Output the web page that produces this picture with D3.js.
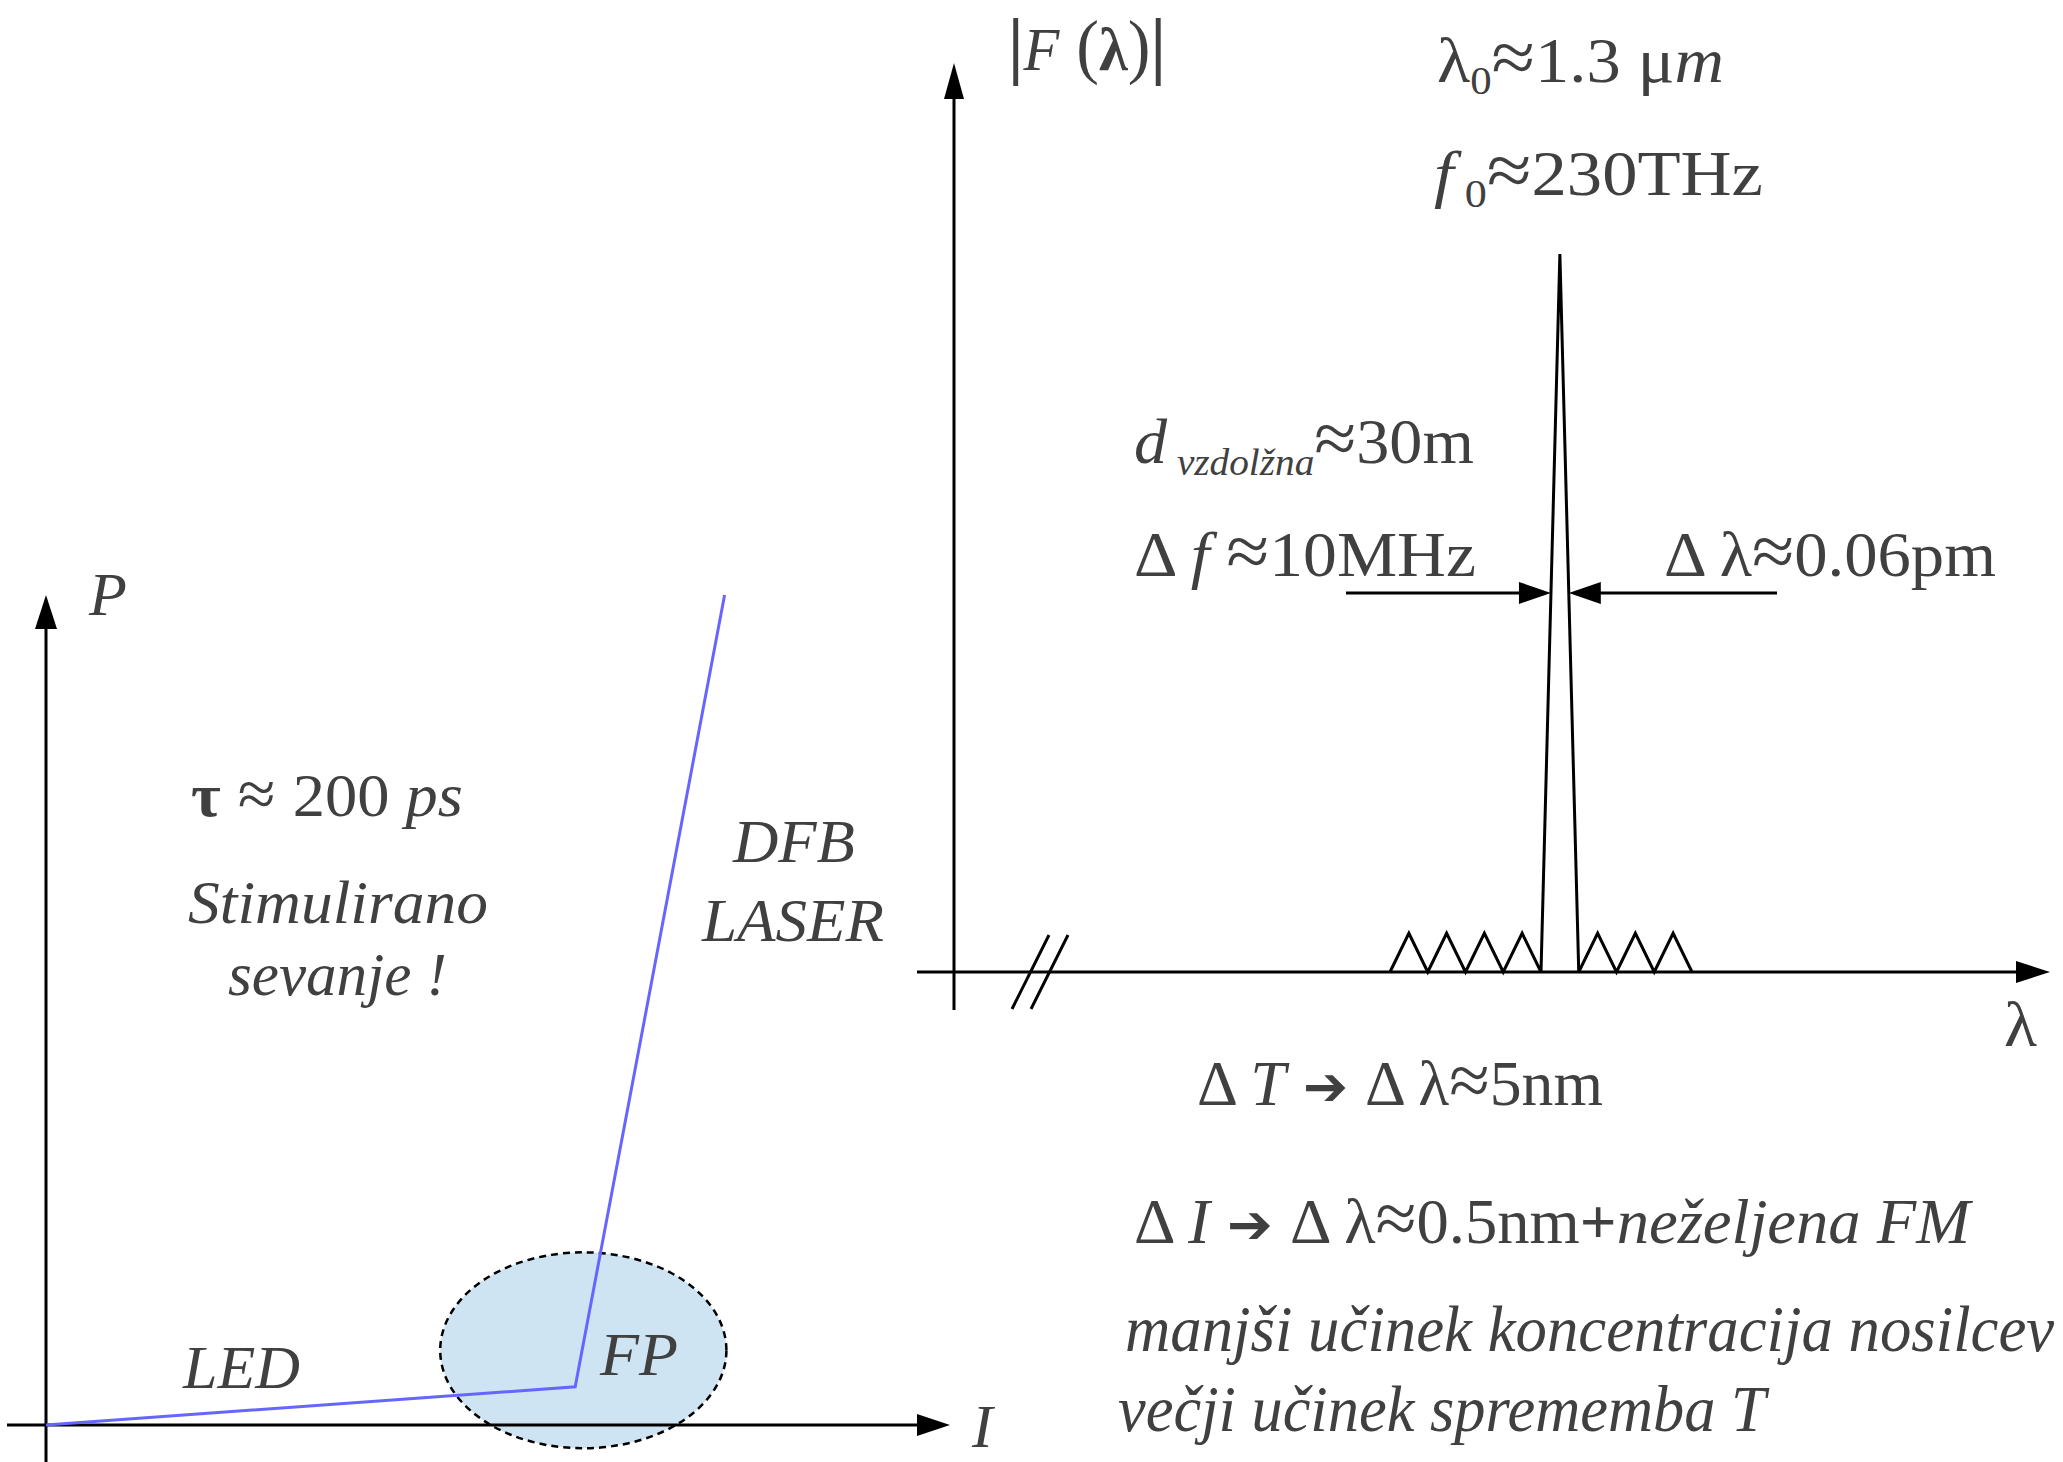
<!DOCTYPE html>
<html><head><meta charset="utf-8">
<script src="https://cdn.jsdelivr.net/npm/d3@7"></script>
<style>body{margin:0;background:#fff}svg{display:block}</style>
</head><body>
<script>
// ---------- data ----------
// Left panel: P–I characteristic (arbitrary units)
const charI = [0, 58.8, 75.4];
const charP = [0, 4.6, 100];
// Fabry-Perot region (ellipse) in data units
const fpCenter = [59.7, 9.0];
const fpRadius = [15.9, 11.8];
// Right panel: DFB spectrum, offsets in mode spacings, relative amplitude
const modeOffset = [-4.5,-4,-3.5,-3,-2.5,-2,-1.5,-1,-0.5,0,0.5,1,1.5,2,2.5,3,3.5];
const modeAmp    = [0,0.054,0,0.054,0,0.054,0,0.054,0,1,0,0.054,0,0.054,0,0.054,0];
const widthLevel = 0.528; // level of the Δλ dimension arrows

const W = 2063, H = 1462;
const ink = "#000", txt = "#404040", blue = "#6666ff";
const serif = "'Liberation Serif','Times New Roman',serif";

const svg = d3.select("body").append("svg").attr("width", W).attr("height", H);
svg.append("rect").attr("width", W).attr("height", H).attr("fill", "#fff");

function arrowHead(g, tip, dir, len, half) {
  const [tx, ty] = tip, [dx, dy] = dir;
  const bx = tx - dx * len, by = ty - dy * len;
  const px = -dy * half, py = dx * half;
  g.append("path").attr("d", `M${tx},${ty}L${bx+px},${by+py}L${bx-px},${by-py}Z`).attr("fill", ink);
}

function label(g, x, y, parts, size, anchor) {
  const t = g.append("text").attr("x", x).attr("y", y).attr("font-family", serif)
    .attr("font-size", size).attr("fill", txt).attr("text-anchor", anchor || "start");
  parts.forEach(p => {
    const s = t.append("tspan").text(p.t);
    if (p.i) s.attr("font-style", "italic");
    if (p.b) s.attr("font-weight", "bold");
    if (p.s) s.attr("font-size", p.s);
    if (p.dy) s.attr("dy", p.dy);
    if (p.f) s.attr("font-family", p.f);
  });
  return t;
}
// stretch/compress a label horizontally so it spans [x0, x1]
function fit(t, x0, x1) {
  const b = t.node().getBBox();
  const sx = (x1 - x0) / b.width;
  t.attr("transform", `translate(${x0 - b.x * sx},0) scale(${sx},1)`);
}

// ---------- left panel ----------
const xI = d3.scaleLinear().domain([0, 100]).range([46, 946]);
const yP = d3.scaleLinear().domain([0, 100]).range([1425, 595]);
const L = svg.append("g");

L.append("ellipse")
  .attr("cx", xI(fpCenter[0])).attr("cy", yP(fpCenter[1]))
  .attr("rx", xI(fpRadius[0]) - xI(0)).attr("ry", yP(0) - yP(fpRadius[1]))
  .attr("fill", "#cfe4f3").attr("stroke", ink).attr("stroke-width", 2.5)
  .attr("stroke-dasharray", "7,5");

L.append("line").attr("x1", xI(0) - 39).attr("x2", xI(100) - 20).attr("y1", yP(0)).attr("y2", yP(0))
  .attr("stroke", ink).attr("stroke-width", 3);
arrowHead(L, [xI(100) + 4, yP(0)], [1, 0], 33, 11);
L.append("line").attr("x1", xI(0)).attr("x2", xI(0)).attr("y1", H).attr("y2", yP(100) + 20)
  .attr("stroke", ink).attr("stroke-width", 3);
arrowHead(L, [xI(0), yP(100)], [0, -1], 34, 11);

L.append("path")
  .attr("d", d3.line().x((d, i) => xI(charI[i])).y((d, i) => yP(charP[i]))(charI))
  .attr("fill", "none").attr("stroke", blue).attr("stroke-width", 3);

label(L, 89, 615, [{t: "P", i: 1}], 62);
label(L, 972, 1447, [{t: "I", i: 1}], 62);
fit(label(L, 191, 816, [{t: "τ", b: 1}, {t: " ≈ ", s: 66}, {t: "200 "}, {t: "ps", i: 1}], 62), 191, 463);
fit(label(L, 188, 923, [{t: "Stimulirano", i: 1}], 62), 188, 488);
fit(label(L, 228, 995, [{t: "sevanje !", i: 1}], 62), 228, 447);
fit(label(L, 732, 862, [{t: "DFB", i: 1}], 62), 732, 855);
fit(label(L, 701, 941, [{t: "LASER", i: 1}], 62), 701, 884);
fit(label(L, 182, 1388, [{t: "LED", i: 1}], 62), 182, 300);
fit(label(L, 599, 1375, [{t: "FP", i: 1}], 62), 599, 678);

// ---------- right panel ----------
const xL = d3.scaleLinear().domain([-4.5, 3.5]).range([1390, 1692]);
const yF = d3.scaleLinear().domain([0, 1]).range([972, 254]);
const R = svg.append("g");

R.append("line").attr("x1", 917).attr("x2", 2020).attr("y1", yF(0)).attr("y2", yF(0))
  .attr("stroke", ink).attr("stroke-width", 3);
arrowHead(R, [2050, yF(0)], [1, 0], 34, 11);
R.append("line").attr("x1", 954).attr("x2", 954).attr("y1", 1010).attr("y2", 90)
  .attr("stroke", ink).attr("stroke-width", 3);
arrowHead(R, [954, 63], [0, -1], 36, 10);
[0, 19].forEach(o => R.append("line")
  .attr("x1", 1012 + o).attr("y1", 1009).attr("x2", 1049 + o).attr("y2", 935)
  .attr("stroke", ink).attr("stroke-width", 3));

R.append("path")
  .attr("d", d3.line().x((d, i) => xL(modeOffset[i])).y((d, i) => yF(modeAmp[i]))(modeOffset))
  .attr("fill", "none").attr("stroke", ink).attr("stroke-width", 3).attr("stroke-linejoin", "miter");

const iPk = modeAmp.indexOf(1);
const leftX = xL(d3.interpolate(modeOffset[iPk - 1], modeOffset[iPk])(widthLevel));
const rightX = xL(d3.interpolate(modeOffset[iPk + 1], modeOffset[iPk])(widthLevel));
const ya = yF(widthLevel);
R.append("line").attr("x1", 1346).attr("x2", leftX - 20).attr("y1", ya).attr("y2", ya).attr("stroke", ink).attr("stroke-width", 3);
arrowHead(R, [leftX, ya], [1, 0], 32, 11);
R.append("line").attr("x1", 1777).attr("x2", rightX + 20).attr("y1", ya).attr("y2", ya).attr("stroke", ink).attr("stroke-width", 3);
arrowHead(R, [rightX, ya], [-1, 0], 32, 11);

const S = 64, AP = {s: 74}, SUB = 40;
fit(label(R, 2004, 1046, [{t: "λ"}], S), 2004, 2037);
fit(label(R, 1008, 70, [{t: "|", s: 74, b: 1}, {t: "F", i: 1}, {t: " (", s: 72}, {t: "λ", b: 1}, {t: ")", s: 72}, {t: "|", s: 74, b: 1}], 62), 1008, 1166);
fit(label(R, 1437, 82, [{t: "λ"}, {t: "0", s: SUB, dy: 12}, {t: "≈", s: AP.s, dy: -12}, {t: "1.3 μ"}, {t: "m", i: 1}], S), 1437, 1724);
fit(label(R, 1434, 195, [{t: "f", i: 1}, {t: " 0", s: SUB, dy: 12}, {t: "≈", s: AP.s, dy: -12}, {t: "230THz"}], S), 1434, 1763);
fit(label(R, 1134, 463, [{t: "d", i: 1}, {t: " vzdolžna", i: 1, s: 38, dy: 12}, {t: "≈", s: AP.s, dy: -12}, {t: "30m"}], S), 1134, 1474);
fit(label(R, 1134, 576, [{t: "Δ "}, {t: "f", i: 1}, {t: " "}, {t: "≈", s: AP.s}, {t: "10MHz"}], S), 1134, 1476);
fit(label(R, 1664, 576, [{t: "Δ λ"}, {t: "≈", s: AP.s}, {t: "0.06pm"}], S), 1664, 1996);
fit(label(R, 1197, 1105, [{t: "Δ "}, {t: "T", i: 1}, {t: " ➔ ", f: "'DejaVu Sans'", s: 54}, {t: "Δ λ"}, {t: "≈", s: AP.s}, {t: "5nm"}], S), 1197, 1603);
fit(label(R, 1134, 1243, [{t: "Δ "}, {t: "I", i: 1}, {t: " ➔ ", f: "'DejaVu Sans'", s: 54}, {t: "Δ λ"}, {t: "≈", s: AP.s}, {t: "0.5nm"}, {t: "+", b: 1}, {t: "neželjena FM", i: 1}], S), 1134, 1974);
fit(label(R, 1125, 1351, [{t: "manjši učinek koncentracija nosilcev", i: 1}], 66), 1125, 2055);
fit(label(R, 1118, 1431, [{t: "večji učinek sprememba T", i: 1}], 66), 1118, 1770);
</script>
</body></html>
